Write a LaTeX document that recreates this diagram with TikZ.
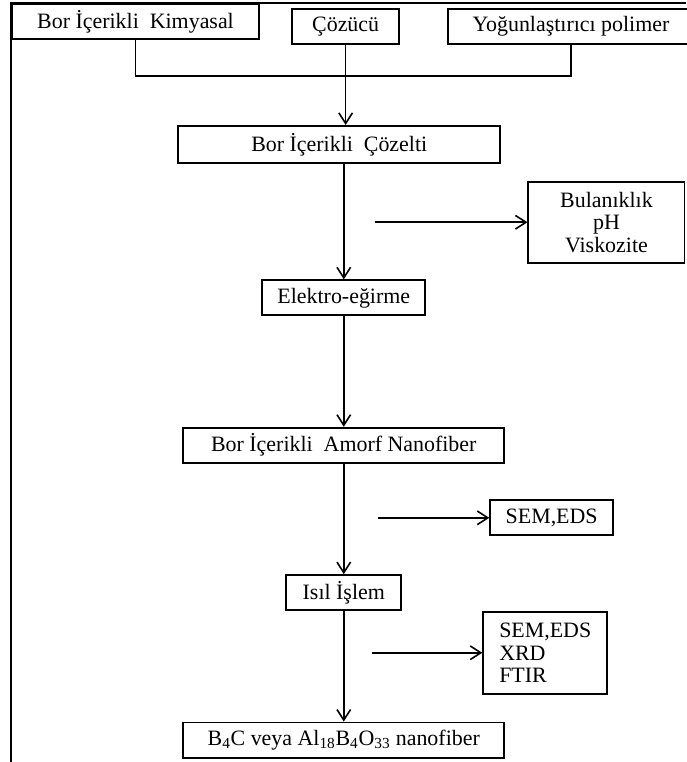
\documentclass[tikz,border=0pt]{standalone}
\usepackage{fontspec}
\setmainfont{Liberation Serif}
\usetikzlibrary{arrows.meta}

\begin{document}
\begin{tikzpicture}[
    kutu/.style = {rectangle, draw=black, line width=1.4pt,
minimum height=0.93cm, inner sep=2pt,
text centered, font=\fontsize{16.5}{17}\selectfont},
olcum/.style = {kutu, align=center},
ok/.style = {-{Straight Barb[length=2.8mm, width=3.6mm]}, line width=1.2pt},
node distance=3.9cm
]

  \useasboundingbox (0,0) rectangle (18.15,-20.16);
  % cerceve
  \draw[line width=1.4pt] (0.29,-20.16) -- (0.29,-0.08) -- (18.15,-0.08);

  \node (kimyasal) [kutu, minimum width=6.53cm] at (3.585,-0.57) {Bor İçerikli~ Kimyasal};
  \node (cozucu) [kutu, minimum width=2.83cm, right of=kimyasal, xshift=1.66cm, yshift=-0.13cm] {Çözücü};
  \node (polimer) [kutu, minimum width=6.5cm, right of=cozucu, xshift=2.06cm] {Yoğunlaştırıcı polimer};
  \node (cozelti) [kutu, minimum width=8.52cm, minimum height=0.98cm, below of=cozucu, xshift=-0.17cm, yshift=0.78cm] {Bor İçerikli~ Çözelti};
  \node (elektro) [kutu, minimum width=4.31cm, below of=cozelti, xshift=0.12cm, yshift=-0.16cm] {Elektro-eğirme};
  \node (amorf) [kutu, minimum width=8.49cm, below of=elektro] {Bor İçerikli~ Amorf Nanofiber};
  \node (isil) [kutu, minimum width=3.04cm, below of=amorf] {Isıl İşlem};
  \node (urun) [kutu, minimum width=8.49cm, below of=isil] {B\textsubscript{4}C veya Al\textsubscript{18}B\textsubscript{4}O\textsubscript{33} nanofiber};

  \node (olcum1) [olcum, minimum width=4.13cm, minimum height=2.14cm, right of=elektro, xshift=3.05cm, yshift=2.0cm] {Bulanıklık\\pH\\Viskozite};
  \node (olcum2) [kutu, minimum width=3.25cm, right of=amorf, xshift=1.6cm, yshift=-1.92cm] {SEM,EDS};
  \node (olcum3) [olcum, align=left, minimum width=3.28cm, minimum height=2.17cm, right of=isil, xshift=1.43cm, yshift=-1.59cm] {SEM,EDS\\XRD\\FTIR};

  \coordinate (bus) at (0,-2.01);
  \coordinate (c1) at (9.92,-5.89);
  \coordinate (c2) at (10.0,-13.73);
  \coordinate (c3) at (9.84,-17.25);

  \draw[line width=1.2pt] (kimyasal.south) |- (bus -| polimer.south) -- (polimer.south);
  \draw[ok]     (cozucu.south) -- (cozucu.south |- cozelti.north);
  \draw[ok]     (cozelti.south -| elektro.north) -- (elektro.north);
  \draw[ok]     (elektro) -- (amorf);
  \draw[ok]     (amorf) -- (isil);
  \draw[ok]     (isil) -- (urun);
  \draw[ok]     (c1 |- olcum1.west) -- (olcum1.west);
  \draw[ok]     (c2 |- olcum2.west) -- (olcum2.west);
  \draw[ok]     (c3 |- olcum3.west) -- (olcum3.west);

\end{tikzpicture}
\end{document}
